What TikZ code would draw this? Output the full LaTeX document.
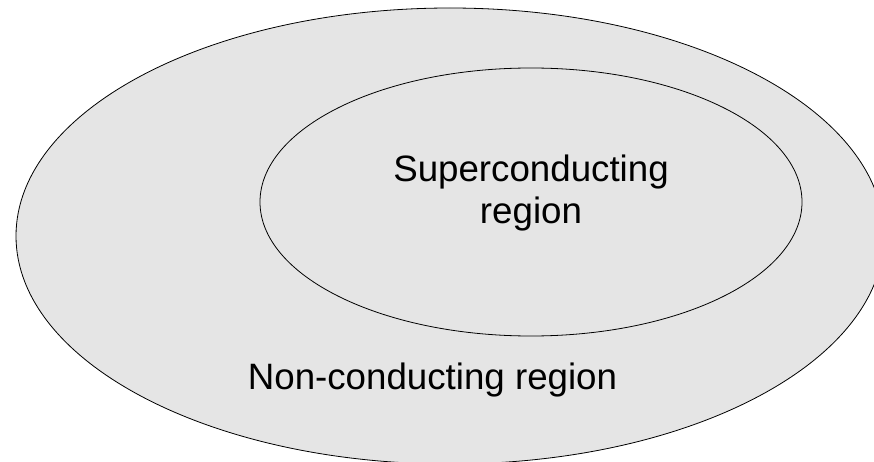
\documentclass[tikz,border=0pt]{standalone}
\usepackage{fontspec}
\setmainfont{Liberation Sans}
\definecolor{regionfill}{RGB}{229,229,229}
\tikzset{
  region/.style={draw=black, fill=regionfill, line width=0.8pt},
  lbl/.style={font=\fontsize{36.7}{42}\selectfont, align=center, inner sep=0pt}
}
\begin{document}
\begin{tikzpicture}[x=1pt,y=-1pt]
\useasboundingbox (0,0) rectangle (874,462);
\clip (0,0) rectangle (874,462);
\fill[white] (0,0) rectangle (874,462);
\draw[region] (450,236) ellipse [x radius=434, y radius=228];
\draw[region] (531,202) ellipse [x radius=271, y radius=134];
\node[lbl, anchor=base] (sc) at (531,223) {Superconducting\\region};
\node[lbl, anchor=base] (nc) at (432.5,389) {Non-conducting region};
\end{tikzpicture}
\end{document}
